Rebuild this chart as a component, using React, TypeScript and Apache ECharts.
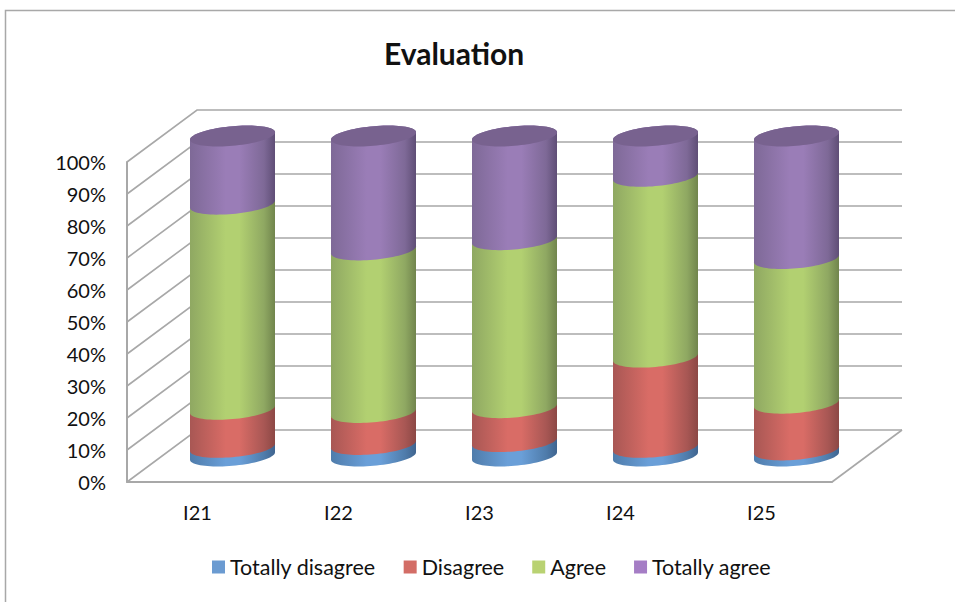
import React, { useEffect, useRef } from "react";
import * as echarts from "echarts";

const categories = ["I21", "I22", "I23", "I24", "I25"];
const totallyDisagree = [2.7, 3.6, 4.5, 2.7, 1.9];
const disagree = [11.9, 10.0, 10.6, 28.2, 14.6];
const agree = [64.1, 50.8, 52.5, 56.5, 45.2];
const totallyAgree = [21.3, 35.6, 32.4, 12.6, 38.3];
const yTicks = [0, 10, 20, 30, 40, 50, 60, 70, 80, 90, 100];

const DEPTH_X = 70;
const DEPTH_Y = -52;
const RX = 42.5;
const SHEAR = 3.7;
const RY = 9.8;
const GRID_COLOR = "#a8a8a8";

const arcPoint = (cx: number, cy: number, t: number) => [
  cx + RX * Math.cos(t),
  cy - SHEAR * Math.cos(t) + RY * Math.sin(t),
];

echarts.graphic.registerShape(
  "cylBody",
  echarts.graphic.extendShape({
    shape: { cx: 0, y0: 0, y1: 0 },
    buildPath(ctx: any, s: any) {
      const n = 40;
      // front arc of the lower edge, right to left
      for (let i = 0; i <= n; i++) {
        const p = arcPoint(s.cx, s.y0, (Math.PI * i) / n);
        if (i === 0) ctx.moveTo(p[0], p[1]);
        else ctx.lineTo(p[0], p[1]);
      }
      // back arc of the upper edge, left to right
      for (let i = 0; i <= n; i++) {
        const p = arcPoint(s.cx, s.y1, Math.PI + (Math.PI * i) / n);
        ctx.lineTo(p[0], p[1]);
      }
      ctx.closePath();
    },
  })
);

echarts.graphic.registerShape(
  "cylTop",
  echarts.graphic.extendShape({
    shape: { cx: 0, cy: 0 },
    buildPath(ctx: any, s: any) {
      const n = 80;
      for (let i = 0; i <= n; i++) {
        const p = arcPoint(s.cx, s.cy, (2 * Math.PI * i) / n);
        if (i === 0) ctx.moveTo(p[0], p[1]);
        else ctx.lineTo(p[0], p[1]);
      }
      ctx.closePath();
    },
  })
);

const shade = (left: string, mid: string, right: string) =>
  new echarts.graphic.LinearGradient(0, 0, 1, 0, [
    { offset: 0, color: left },
    { offset: 0.42, color: mid },
    { offset: 0.58, color: mid },
    { offset: 0.87, color: left },
    { offset: 1, color: right },
  ]);

const build = () => {
  const values = [totallyDisagree, disagree, agree, totallyAgree];
  const names = ["Totally disagree", "Disagree", "Agree", "Totally agree"];
  const legendColors = ["#6b9bd1", "#d36d66", "#b9d272", "#a57dc5"];
  const fills = [
    shade("#4f7cab", "#6a9fd8", "#3f648f"),
    shade("#a85754", "#d96c66", "#8c4845"),
    shade("#8fa862", "#b2d071", "#71854d"),
    shade("#7e6997", "#9a7db7", "#5f4e76"),
  ];
  const cumulative = categories.map(() => 0);
  const cylinders = values.map((vals, k) => {
    const data = vals.map((v, i) => {
      const low = cumulative[i];
      cumulative[i] = low + v;
      return [categories[i], low, low + v];
    });
    return {
      type: "custom",
      name: names[k],
      itemStyle: { color: legendColors[k] },
      encode: { x: 0, y: [1, 2] },
      clip: false,
      z: 3,
      data,
      renderItem: (_: any, api: any) => {
        const a = api.coord([api.value(0), api.value(1)]);
        const b = api.coord([api.value(0), api.value(2)]);
        const cx = a[0] + DEPTH_X / 2;
        const y0 = a[1] + DEPTH_Y / 2;
        const y1 = b[1] + DEPTH_Y / 2;
        const children: any[] = [
          { type: "cylBody", shape: { cx, y0, y1 }, style: { fill: fills[k] } },
        ];
        if (k === values.length - 1) {
          children.push({
            type: "cylTop",
            shape: { cx, cy: y1 },
            style: { fill: "#78628f" },
          });
        }
        return { type: "group", children };
      },
    };
  });

  const walls = {
    type: "custom",
    silent: true,
    clip: false,
    z: 1,
    encode: { x: 0, y: 1 },
    data: yTicks.map((t) => [categories[0], t]),
    renderItem: (params: any, api: any) => {
      const y = api.coord([0, api.value(1)])[1];
      const x0 = params.coordSys.x;
      const x1 = x0 + params.coordSys.width;
      const lineStyle = { stroke: GRID_COLOR, lineWidth: 1.6, fill: "none" };
      const children: any[] = [
        {
          type: "polyline",
          shape: {
            points: [
              [x0, y],
              [x0 + DEPTH_X, y + DEPTH_Y],
              [x1 + DEPTH_X, y + DEPTH_Y],
            ],
          },
          style: lineStyle,
        },
      ];
      if (api.value(1) === yTicks[0]) {
        children.push({
          type: "line",
          shape: { x1, y1: y, x2: x1 + DEPTH_X, y2: y + DEPTH_Y },
          style: lineStyle,
        });
      }
      return { type: "group", children };
    },
  };

  const text = { fontFamily: "Lato", color: "#111" };
  return {
    animation: false,
    backgroundColor: "#fff",
    title: {
      text: "Evaluation",
      left: 379,
      top: 33,
      textStyle: { ...text, fontSize: 30, fontWeight: "bold" },
    },
    legend: {
      data: names,
      left: 207,
      top: 551,
      itemWidth: 13,
      itemHeight: 13,
      itemGap: 28,
      icon: "rect",
      textStyle: { ...text, fontSize: 21.5, padding: [0, 0, 0, 0] },
    },
    grid: { left: 127, right: 123, top: 162, bottom: 120 },
    xAxis: {
      type: "category",
      data: categories,
      axisLine: { lineStyle: { color: GRID_COLOR, width: 2 } },
      axisTick: { show: false },
      axisLabel: { ...text, fontSize: 20, margin: 20 },
    },
    yAxis: {
      type: "value",
      min: 0,
      max: 100,
      interval: 10,
      splitLine: { show: false },
      axisLine: { show: true, lineStyle: { color: GRID_COLOR, width: 2 } },
      axisTick: { show: false },
      axisLabel: { ...text, fontSize: 20, margin: 21, formatter: "{value}%" },
    },
    graphic: [
      {
        type: "polyline",
        silent: true,
        shape: { points: [[5.5, 602], [5.5, 10.5], [955, 10.5]] },
        style: { stroke: GRID_COLOR, lineWidth: 1.5, fill: "none" },
      },
    ],
    series: [walls, ...cylinders],
  };
};

export default function App() {
  const ref = useRef<HTMLDivElement>(null);
  useEffect(() => {
    const chart = echarts.init(ref.current!, null, { renderer: "svg" });
    chart.setOption(build() as any);
    return () => chart.dispose();
  }, []);
  return (
    <div
      ref={ref}
      style={{ position: "absolute", left: 0, top: 0, width: 955, height: 602 }}
    />
  );
}
